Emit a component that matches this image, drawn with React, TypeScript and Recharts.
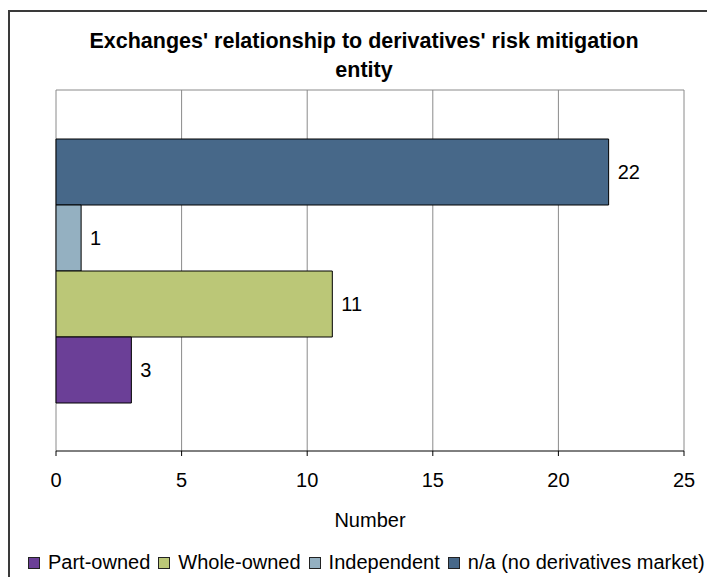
import React from 'react';
import { BarChart, Bar, XAxis, YAxis, CartesianGrid, Legend, LabelList } from 'recharts';

// values
const categories = [''];
const partOwned = [3];
const wholeOwned = [11];
const independent = [1];
const notApplicable = [22];
const xTicks = [0, 5, 10, 15, 20, 25];

// legend order (bottom bar first)
const series = [
    { key: 'partOwned', name: 'Part-owned', color: '#6B3F97', values: partOwned },
    { key: 'wholeOwned', name: 'Whole-owned', color: '#BBC777', values: wholeOwned },
    { key: 'independent', name: 'Independent', color: '#94B0C1', values: independent },
    { key: 'na', name: 'n/a (no derivatives market)', color: '#476889', values: notApplicable },
];

const rows = categories.map((name, i) => {
    const row: Record<string, string | number> = { name };
    series.forEach((s) => {
        row[s.key] = s.values[i];
    });
    return row;
});

const FONT = '"Liberation Sans", Arial, sans-serif';

const LegendRow = () => (
    <div style={{ display: 'flex', alignItems: 'center', whiteSpace: 'nowrap', fontFamily: FONT, fontSize: 20, color: '#000' }}>
        {series.map((s) => (
            <div key={s.key} style={{ display: 'flex', alignItems: 'center', marginRight: 8 }}>
                <div style={{ width: 10, height: 10, background: s.color, border: '1px solid #222', marginRight: 8 }} />
                <span>{s.name}</span>
            </div>
        ))}
    </div>
);

export default function App() {
    return (
        <div style={{ position: 'fixed', left: 0, top: 0, width: 707, height: 577, overflow: 'hidden', background: '#fff', fontFamily: FONT }}>
            {/* chart frame, cut off on the right and bottom like the reference */}
            <div style={{ position: 'absolute', left: 8, top: 10, width: 800, height: 700, border: '2px solid #3a3a3a' }} />

            <div style={{ position: 'absolute', left: 0, top: 27, width: 728, textAlign: 'center', fontWeight: 'bold', fontSize: 21.5, lineHeight: '29px', color: '#000' }}>
                Exchanges' relationship to derivatives' risk mitigation
                <br />
                entity
            </div>

            <div style={{ position: 'absolute', left: 0, top: 0 }}>
                <BarChart
                    width={707}
                    height={577}
                    data={rows}
                    layout="vertical"
                    margin={{ top: 90, right: 23, bottom: 76, left: 56 }}
                    barCategoryGap={49}
                    barGap={0}
                >
                    <CartesianGrid
                        yAxisId="cat"
                        stroke="#8a8a8a"
                        horizontalCoordinatesGenerator={({ offset }: any) => [offset.top]}
                    />
                    <XAxis
                        type="number"
                        domain={[0, 25]}
                        ticks={xTicks}
                        interval={0}
                        height={50}
                        axisLine={{ stroke: '#000' }}
                        tickLine={{ stroke: '#000' }}
                        tickSize={5}
                        tickMargin={17}
                        tick={{ fill: '#000', fontSize: 20, fontFamily: FONT }}
                        label={{ value: 'Number', position: 'bottom', offset: 12, fill: '#000', fontSize: 20, fontFamily: FONT }}
                    />
                    <YAxis yAxisId="cat" type="category" dataKey="name" width={0} tick={false} tickLine={false} axisLine={{ stroke: '#000' }} />
                    <YAxis yAxisId="edge" type="number" domain={[0, 1]} ticks={[0, 1]} width={0} tick={false} tickSize={6} axisLine={false} tickLine={{ stroke: '#000' }} />
                    {[...series].reverse().map((s) => (
                        <Bar key={s.key} yAxisId="cat" dataKey={s.key} name={s.name} fill={s.color} stroke="#000" strokeWidth={1} isAnimationActive={false}>
                            <LabelList dataKey={s.key} position="right" offset={9} fill="#000" fontSize={20} fontFamily={FONT} />
                        </Bar>
                    ))}
                    <Legend
                        layout="horizontal"
                        verticalAlign="middle"
                        align="center"
                        wrapperStyle={{ left: 28, top: 551, width: 720 }}
                        content={() => <LegendRow />}
                    />
                </BarChart>
            </div>
        </div>
    );
}
